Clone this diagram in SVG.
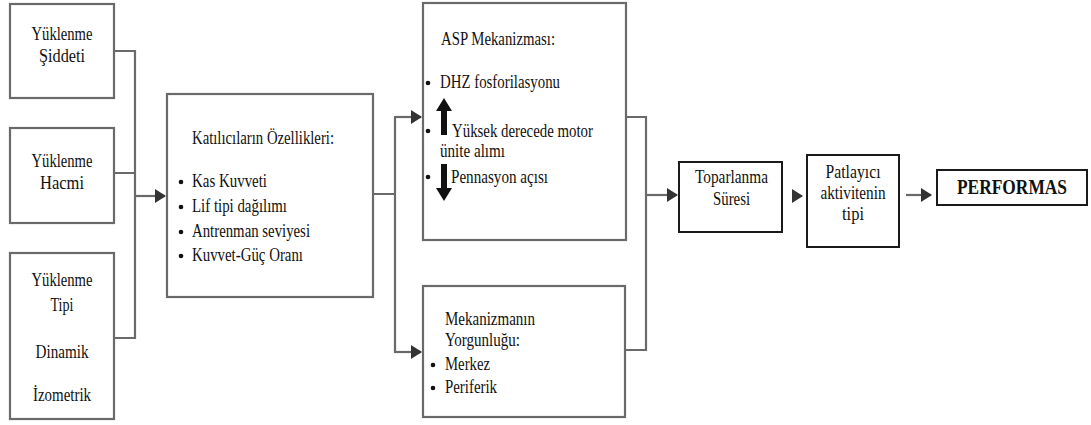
<svg xmlns="http://www.w3.org/2000/svg" width="1091" height="425" viewBox="0 0 1091 425">
  <style>
    .box { fill: #ffffff; stroke: #6a6a6a; stroke-width: 2.2; }
    .box-dark { fill: #ffffff; stroke: #1a1a1a; stroke-width: 2; }
    .wire { fill: none; stroke: #6a6a6a; stroke-width: 2.2; }
    .t { font-family: "Liberation Serif", "Times New Roman", serif; font-size: 18.5px; fill: #111111; }
    .c { text-anchor: middle; }
    .b { font-weight: bold; font-size: 20px; }
    .dot { fill: #111111; }
    .thick { fill: #111111; }
  </style>
  <defs>
    <marker id="head" markerUnits="userSpaceOnUse" markerWidth="12" markerHeight="16" refX="10" refY="7" orient="auto">
      <path d="M0,0 L11,7 L0,14 z" fill="#333333"/>
    </marker>
  </defs>

  <rect width="1091" height="425" fill="#ffffff"/>

  <!-- connectors -->
  <g id="connectors">
    <path class="wire" d="M114,51 H135 M114,173 H135 M114,338 H135 M135,50 V339"/>
    <path class="wire" d="M135,196 H165" marker-end="url(#head)"/>
    <path class="wire" d="M373,194 H395 M395,116 V353"/>
    <path class="wire" d="M395,117 H421" marker-end="url(#head)"/>
    <path class="wire" d="M395,352 H421" marker-end="url(#head)"/>
    <path class="wire" d="M626,117 H646 M625,350 H646 M646,116 V351"/>
    <path class="wire" d="M646,195 H677" marker-end="url(#head)"/>
    <path class="wire" d="M792,196 H802" marker-end="url(#head)"/>
    <path class="wire" d="M906,195 H931" marker-end="url(#head)"/>
  </g>

  <!-- load intensity -->
  <g id="yuklenme-siddeti">
    <rect class="box" x="10" y="4" width="104" height="94"/>
    <text class="t c" x="62" y="40" textLength="61" lengthAdjust="spacingAndGlyphs">Yüklenme</text>
    <text class="t c" x="62" y="62" textLength="46" lengthAdjust="spacingAndGlyphs">Şiddeti</text>
  </g>

  <!-- load volume -->
  <g id="yuklenme-hacmi">
    <rect class="box" x="10" y="128" width="104" height="95"/>
    <text class="t c" x="62" y="167" textLength="61" lengthAdjust="spacingAndGlyphs">Yüklenme</text>
    <text class="t c" x="62" y="189" textLength="44" lengthAdjust="spacingAndGlyphs">Hacmi</text>
  </g>

  <!-- load type -->
  <g id="yuklenme-tipi">
    <rect class="box" x="10" y="253" width="104" height="166"/>
    <text class="t c" x="62" y="286" textLength="61" lengthAdjust="spacingAndGlyphs">Yüklenme</text>
    <text class="t c" x="62" y="311" textLength="23" lengthAdjust="spacingAndGlyphs">Tipi</text>
    <text class="t c" x="62" y="358" textLength="53" lengthAdjust="spacingAndGlyphs">Dinamik</text>
    <text class="t c" x="62" y="401" textLength="58" lengthAdjust="spacingAndGlyphs">İzometrik</text>
  </g>

  <!-- participant characteristics -->
  <g id="katilimci-ozellikleri">
    <rect class="box" x="167" y="94" width="206" height="203"/>
    <text class="t" x="192" y="144" textLength="142" lengthAdjust="spacingAndGlyphs">Katılıcıların Özellikleri:</text>
    <circle class="dot" cx="181" cy="182" r="2.3"/>
    <text class="t" x="192" y="187" textLength="75" lengthAdjust="spacingAndGlyphs">Kas Kuvveti</text>
    <circle class="dot" cx="181" cy="207" r="2.3"/>
    <text class="t" x="192" y="212" textLength="95" lengthAdjust="spacingAndGlyphs">Lif tipi dağılımı</text>
    <circle class="dot" cx="181" cy="232" r="2.3"/>
    <text class="t" x="192" y="237" textLength="118" lengthAdjust="spacingAndGlyphs">Antrenman seviyesi</text>
    <circle class="dot" cx="181" cy="256" r="2.3"/>
    <text class="t" x="192" y="261" textLength="111" lengthAdjust="spacingAndGlyphs">Kuvvet-Güç Oranı</text>
  </g>

  <!-- ASP mechanism -->
  <g id="asp-mekanizmasi">
    <rect class="box" x="423" y="3" width="203" height="237"/>
    <text class="t" x="441" y="45" textLength="114" lengthAdjust="spacingAndGlyphs">ASP Mekanizması:</text>
    <circle class="dot" cx="428" cy="83" r="2.3"/>
    <text class="t" x="440" y="88" textLength="120" lengthAdjust="spacingAndGlyphs">DHZ fosforilasyonu</text>
    <path class="thick" d="M444,98 L452,111 L447,111 L447,135 L441,135 L441,111 L436,111 z"/>
    <circle class="dot" cx="428" cy="131" r="2.3"/>
    <text class="t" x="452" y="137" textLength="141" lengthAdjust="spacingAndGlyphs">Yüksek derecede motor</text>
    <text class="t" x="440" y="157" textLength="65" lengthAdjust="spacingAndGlyphs">ünite alımı</text>
    <circle class="dot" cx="428" cy="177" r="2.3"/>
    <path class="thick" d="M441,164 L447,164 L447,188 L452,188 L444,201 L436,188 L441,188 z"/>
    <text class="t" x="451" y="183" textLength="97" lengthAdjust="spacingAndGlyphs">Pennasyon açısı</text>
  </g>

  <!-- mechanism fatigue -->
  <g id="mekanizma-yorgunlugu">
    <rect class="box" x="423" y="286" width="202" height="131"/>
    <text class="t" x="445" y="325" textLength="90" lengthAdjust="spacingAndGlyphs">Mekanizmanın</text>
    <text class="t" x="445" y="346" textLength="75" lengthAdjust="spacingAndGlyphs">Yorgunluğu:</text>
    <circle class="dot" cx="433" cy="365" r="2.3"/>
    <text class="t" x="445" y="370" textLength="45" lengthAdjust="spacingAndGlyphs">Merkez</text>
    <circle class="dot" cx="433" cy="388" r="2.3"/>
    <text class="t" x="445" y="393" textLength="52" lengthAdjust="spacingAndGlyphs">Periferik</text>
  </g>

  <!-- recovery time -->
  <g id="toparlanma-suresi">
    <rect class="box-dark" x="679" y="162" width="103" height="70"/>
    <text class="t c" x="731.5" y="183" textLength="73" lengthAdjust="spacingAndGlyphs">Toparlanma</text>
    <text class="t c" x="731.5" y="205" textLength="37" lengthAdjust="spacingAndGlyphs">Süresi</text>
  </g>

  <!-- type of explosive activity -->
  <g id="patlayici-aktivite">
    <rect class="box-dark" x="807" y="155" width="92" height="92"/>
    <text class="t c" x="853" y="178" textLength="55" lengthAdjust="spacingAndGlyphs">Patlayıcı</text>
    <text class="t c" x="853" y="199" textLength="65" lengthAdjust="spacingAndGlyphs">aktivitenin</text>
    <text class="t c" x="853" y="220" textLength="22" lengthAdjust="spacingAndGlyphs">tipi</text>
  </g>

  <!-- performance -->
  <g id="performans">
    <rect class="box-dark" x="937" y="170" width="150" height="35"/>
    <text class="t c b" x="1012" y="194" textLength="110" lengthAdjust="spacingAndGlyphs">PERFORMAS</text>
  </g>
</svg>
